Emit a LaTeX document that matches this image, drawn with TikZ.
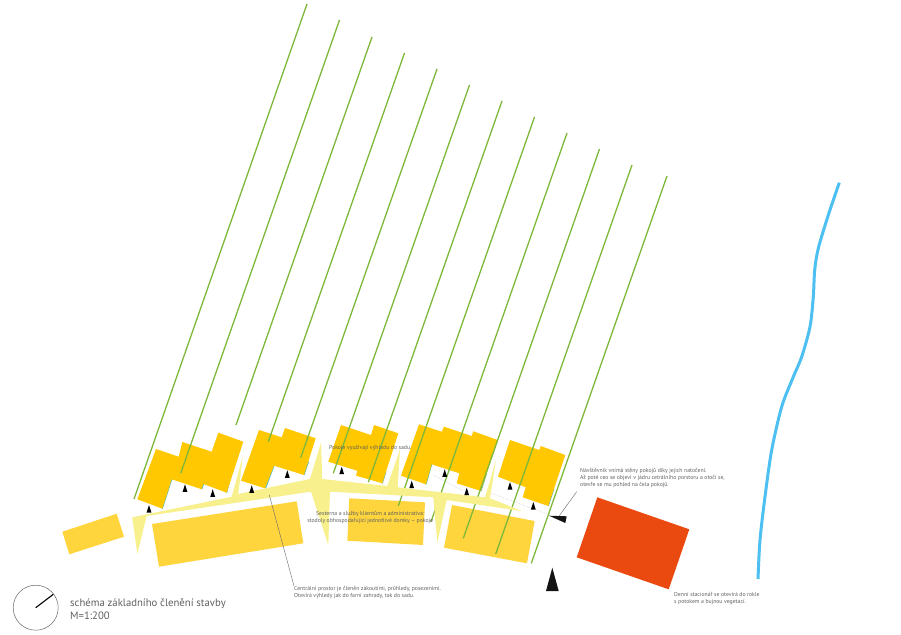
\documentclass[tikz,border=0pt]{standalone}
\usepackage{fontspec}
\usepackage{xcolor}
\usepackage{tikz}
\setmainfont{PT Sans}
\definecolor{roomyellow}{RGB}{255, 200, 0}
\definecolor{blockyellow}{RGB}{255, 213, 62}
\definecolor{pathyellow}{RGB}{248, 240, 140}
\definecolor{dayorange}{RGB}{234, 74, 16}
\definecolor{orchardgreen}{RGB}{125, 184, 58}
\definecolor{streamblue}{RGB}{77, 191, 240}
\definecolor{edgeteal}{RGB}{80, 185, 190}
\definecolor{notegray}{RGB}{95, 95, 95}

\begin{document}
\begin{tikzpicture}[
    x=1pt, y=-1pt,
    room/.style={fill=roomyellow},
    block/.style={fill=blockyellow},
    tree/.style={draw=orchardgreen, line width=1.3pt},
    glass/.style={draw=edgeteal, line width=1pt},
    view/.style={draw=gray!60, line width=0.4pt, densely dotted},
    leader/.style={draw=gray!80!black, line width=0.4pt},
    note/.style={font=\fontsize{5.75}{7}\selectfont, color=notegray, align=left, inner sep=0pt, anchor=north west},
    title/.style={font=\fontsize{10.7}{13}\selectfont, color=notegray, align=left, inner sep=0pt, anchor=north west}
]
\useasboundingbox (0,0) rectangle (901,634);

% Large blocks along the path
\fill[block] (62.3,531.7) -- (116.7,513.7) -- (124,536.7) -- (69.3,554.3) -- cycle;
\fill[block] (152,524) -- (296.7,501.3) -- (303.3,543.3) -- (159,566.7) -- cycle;
\fill[block] (349.3,498.3) -- (425,502.3) -- (423,545) -- (347.3,540.7) -- cycle;
\fill[block] (452,505) -- (534.7,521) -- (527,563.3) -- (444,547.7) -- cycle;
\fill[fill=dayorange] (597.3,497.3) -- (689.3,529.3) -- (668.7,589.3) -- (576.7,557.3) -- cycle;

% Window edges
\foreach \xa/\ya/\xb/\yb in {171.7/479.3/162.3/508.7, 204/483/201.7/489.3, 230/479/226.7/492.7,
    274/465.7/265.5/488.3, 308.5/461.5/304/475, 386/471.5/382.3/483.3, 431.7/464.3/426/484.3,
    486.5/473.5/481/491, 554/488.5/548.3/506}
    \draw[glass] (\xa,\ya) -- (\xb,\yb);

% Room clusters
\fill[room] (156,449) -- (178.7,456.7) -- (182.3,442) -- (211.7,451.7) -- (218.3,432.7) -- (243.3,441.7)
    -- (226.7,492.7) -- (203.3,484) -- (201.7,489.3) -- (171.7,479.3) -- (162.3,508.7) -- (137.3,499.3) -- cycle;
\fill[room] (259,430) -- (281.7,437.3) -- (285,428) -- (315.7,438.3) -- (304,475) -- (274,465.7)
    -- (265,488.3) -- (241,480.7) -- cycle;
\fill[room] (341,425) -- (371,435) -- (374,425) -- (398.3,433.3) -- (382.3,483.3) -- (356,475.7)
    -- (357.3,470.7) -- (328.3,461.7) -- cycle;
\fill[room] (419,424.3) -- (441.7,431.7) -- (444,426.7) -- (471.7,436) -- (473.3,431.3) -- (497.7,440)
    -- (481,491) -- (456.7,483.3) -- (459.3,473.3) -- (431.7,464.3) -- (426,484.3) -- (401,475.7) -- cycle;
\fill[room] (510,440) -- (539.3,450) -- (540.7,446) -- (565.3,455) -- (548.3,506) -- (522.7,497.3)
    -- (525.7,487.3) -- (498,476.7) -- cycle;

% Orchard rows
\foreach \xa/\ya/\xb/\yb in {307/4/134/499, 339.5/20/180.7/473.3, 372/37/236/425, 404.5/53/268.3/441.7,
    437/69/300.7/457.7, 469.5/85/333.3/473.3, 502/101/368.3/482.3, 534.5/117/398.3/506,
    567/133/431/521.7, 599.5/149/463.3/538.3, 632/165/495.7/554, 667/176/531.3/563.3}
    \draw[tree] (\xa,\ya) -- (\xb,\yb);

% Central path
\fill[pathyellow] (132.3,517.3) -- (231.7,496.7) -- (242.7,456.7) -- (238.3,494) -- (310,479) -- (321,442.5)
    -- (322.3,479) -- (387.3,486) -- (400,449.3) -- (397.7,487.3) -- (485,497.3) -- (496,460) -- (490,498.3)
    -- (521.7,511) -- (446.7,500) -- (437.3,542.7) -- (433.3,497.3) -- (330,491.7) -- (328.3,545)
    -- (311,491.7) -- (146.7,516) -- (137.3,554) -- cycle;

% Views between the rooms
\draw[view] (433,475) -- (465,491.7);
\draw[view] (491.7,493.3) -- (550,515);

% Small entrance marks
\foreach \x/\y in {149/509, 185/488.3, 212.7/493.3, 251.7/489.3, 287.3/474.3, 341.7/470.7,
    411.7/484.7, 444.7/473.3, 466.7/491.7, 510/486, 533.3/506}
    \fill[black, shift={(\x,\y)}] (-2.4,3.5) -- (0,-4) -- (2.4,3.5) -- cycle;

% Approach marks
\fill[black!92] (552.3,567.7) -- (558.7,591) -- (546,591) -- cycle;
\fill[black!92] (549,515.7) -- (566.7,516.3) -- (565.3,523) -- cycle;

% Stream
\draw[streamblue, line width=3pt] plot[smooth] coordinates {(839.3,182.7) (828.3,215) (818.3,248.3)
    (814.7,270) (813.3,296.7) (810,326.7) (801.7,356.7) (792.7,378.3) (781.7,406.7) (771.7,450) (765,496.7) (760,540) (758,579)};

% Notes
\node[note] (rooms) at (329,445) {Pokoje využívají výhledu do sadu.};
\node[note] (nurses) at (304,511.5) {\parbox{132pt}{\centering\baselineskip=7pt Sesterna a služby klientům a administrativa:\\stodoly obhospodařující jednotlivé domky – pokoje}};
\node[note] (centre) at (294,586) {Centrální prostor je členěn zákoutími, průhledy, posezeními.\\Otevírá výhledy jak do farní zahrady, tak do sadu.};
\node[note] (visitor) at (580,468.5) {Návštěvník vnímá stěny pokojů díky jejich natočení.\\Až poté ceo se objeví v jádru cetrálního porstoru a otočí se,\\otevře se mu pohled na čela pokojů.};
\node[note] (day) at (674,592) {Denní stacionář se otevírá do rokle\\ s potokem a bujnou vegetací.};

% Leader lines
\coordinate (centreleader) at (269.3,495);
\coordinate (visitorleader) at (559.3,515.7);
\draw[leader] (centreleader) -- (centre.north west);
\draw[leader] (visitorleader) -- (576.7,491.7);

% Title and north sign
\node[draw=gray!80!black, circle, line width=0.5pt, minimum size=45pt, inner sep=0pt] (dial) at (35.7,607.7) {};
\coordinate (dialtip) at (53.3,594.3);
\draw[black, line width=1.1pt] (dial.center) -- (dialtip);
\node[title] (name) at (70,598.5) {schéma základního členění stavby\\M=1:200};

\end{tikzpicture}
\end{document}
